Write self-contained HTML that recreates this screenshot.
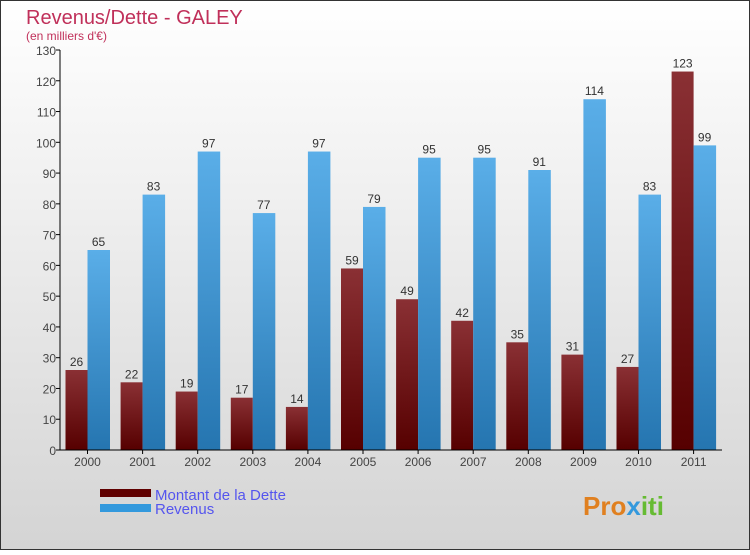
<!DOCTYPE html>
<html><head><meta charset="utf-8"><style>
body{margin:0;width:750px;height:550px;overflow:hidden;font-family:"Liberation Sans",sans-serif}
text{font-family:"Liberation Sans",sans-serif}
</style></head><body>
<svg id="chart" width="750" height="550" xmlns="http://www.w3.org/2000/svg">
<defs>
<linearGradient id="bg" x1="0" y1="0" x2="0" y2="1"><stop offset="0" stop-color="#ffffff"/><stop offset="1" stop-color="#d4d4d4"/></linearGradient>
<linearGradient id="gd" x1="0" y1="0" x2="0" y2="1"><stop offset="0" stop-color="#8a3034"/><stop offset="1" stop-color="#560000"/></linearGradient>
<linearGradient id="gr" x1="0" y1="0" x2="0" y2="1"><stop offset="0" stop-color="#5aaee8"/><stop offset="1" stop-color="#2575b0"/></linearGradient>
</defs>
<rect x="0.5" y="0.5" width="749" height="549" fill="url(#bg)" stroke="#333"/>
<text x="26" y="24" font-size="20" fill="#c0305a">Revenus/Dette - GALEY</text>
<text x="26" y="40" font-size="12" fill="#c0305a">(en milliers d'€)</text>
<g id="plot"></g>
<rect x="100" y="489" width="51" height="8" fill="#600000"/>
<rect x="100" y="504" width="51" height="8" fill="#3399dd"/>
<text x="155" y="500" font-size="15" fill="#5555ee">Montant de la Dette</text>
<text x="155" y="514" font-size="15" fill="#5555ee">Revenus</text>
<text x="583" y="515" font-size="26" font-weight="bold" fill="#e08020">Pro<tspan fill="#3399dd">x</tspan><tspan fill="#66bb33">iti</tspan></text>
</svg>
<script>
const years=["2000","2001","2002","2003","2004","2005","2006","2007","2008","2009","2010","2011"];
const dette=[26,22,19,17,14,59,49,42,35,31,27,123];
const revenus=[65,83,97,77,97,79,95,95,91,114,83,99];
const ticks=[0,10,20,30,40,50,60,70,80,90,100,110,120,130];
const NS="http://www.w3.org/2000/svg";
const g=document.getElementById('plot');
const y0=450,y1=50,vmax=130,x0=60;
const Y=v=>y0-(v/vmax)*(y0-y1);
const X=i=>87.5+i*55.1;
function mk(t,a){const e=document.createElementNS(NS,t);for(const k in a)e.setAttribute(k,a[k]);g.appendChild(e);return e;}
ticks.forEach(t=>{
 const l=mk('line',{x1:x0-4,x2:x0,y1:Y(t),y2:Y(t),stroke:'#000'});
 
 
 const tx=mk('text',{x:x0-4,y:Y(t)+5,'font-size':12,'text-anchor':'end',fill:'#444'});
 tx.textContent=t;
 
 
});
years.forEach((yr,i)=>{
 const c=X(i);
 const bd=mk('rect',{x:c-22,y:Y(dette[i]),width:22,height:y0-Y(dette[i]),fill:'url(#gd)'});
 
 
 const br=mk('rect',{x:c,y:Y(revenus[i]),width:22.5,height:y0-Y(revenus[i]),fill:'url(#gr)'});
 
 
 const ld=mk('text',{x:c-11,y:Y(dette[i])-4,'font-size':12,'text-anchor':'middle',fill:'#333'});
 ld.textContent=dette[i];
 
 
 const lr=mk('text',{x:c+11,y:Y(revenus[i])-4,'font-size':12,'text-anchor':'middle',fill:'#333'});
 lr.textContent=revenus[i];
 
 
 const tk=mk('line',{x1:c,x2:c,y1:y0,y2:y0+4,stroke:'#000'});
 
 
 const xl=mk('text',{x:c,y:y0+16,'font-size':12,'text-anchor':'middle',fill:'#444'});
 xl.textContent=yr;
 
 
});
const ya=mk('line',{x1:x0,x2:x0,y1:y1,y2:y0,stroke:'#000'});


const xa=mk('line',{x1:x0,x2:722,y1:y0,y2:y0,stroke:'#000'});


</script>
</body></html>
